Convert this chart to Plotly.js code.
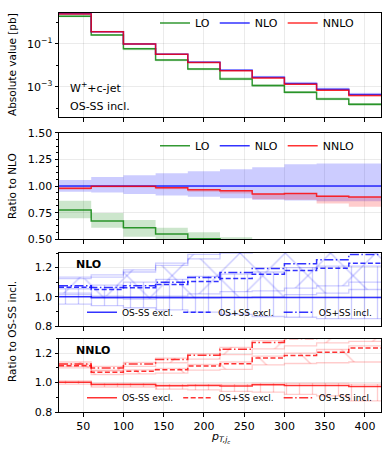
<!DOCTYPE html>
<html>
<head>
<meta charset="utf-8">
<script src="https://cdn.plot.ly/plotly-3.0.1.min.js"></script>
<style>
html, body { margin: 0; padding: 0; background: #fff; }
#chart { width: 390px; height: 454px; }
</style>
</head>
<body>
<div id="chart"></div>
<script>
// bin edges in pT (GeV)
var edges = [20, 60, 100, 140, 180, 220, 260, 300, 340, 380, 420];

// panel 1: absolute values [pb]
var absLO   = [1.90, 0.250, 0.058, 0.0175, 0.0066, 0.0023, 0.00112, 0.00055, 0.00027, 0.000151];
var absNLO  = [2.45, 0.363, 0.0977, 0.0324, 0.0138, 0.00575, 0.00275, 0.00141, 0.00076, 0.000437];
var absNNLO = [2.40, 0.362, 0.0973, 0.0319, 0.0133, 0.00550, 0.00254, 0.00131, 0.00069, 0.00039];

// panel 2: ratio to NLO, with scale bands
var rLO      = [0.775, 0.672, 0.609, 0.550, 0.506, 0.44, 0.41, 0.39, 0.36, 0.35];
var rLOlo    = [0.697, 0.609, 0.525, 0.480, 0.440, 0.38, 0.35, 0.33, 0.31, 0.29];
var rLOhi    = [0.862, 0.747, 0.681, 0.609, 0.566, 0.52, 0.48, 0.45, 0.42, 0.40];
var rNLO     = [1, 1, 1, 1, 1, 1, 1, 1, 1, 1];
var rNLOlo   = [0.945, 0.940, 0.925, 0.910, 0.900, 0.885, 0.870, 0.865, 0.857, 0.857];
var rNLOhi   = [1.056, 1.084, 1.100, 1.119, 1.138, 1.157, 1.175, 1.203, 1.210, 1.210];
var rNNLO    = [0.978, 0.997, 0.997, 0.984, 0.965, 0.955, 0.925, 0.930, 0.903, 0.897];
var rNNLOlo  = [0.965, 0.985, 0.985, 0.970, 0.945, 0.930, 0.875, 0.870, 0.835, 0.805];
var rNNLOhi  = [0.985, 1.000, 1.000, 0.990, 0.970, 0.960, 0.930, 0.935, 0.910, 0.900];

// panel 3: NLO, ratio to OS-SS incl.
var nloExcl     = [1.000, 0.996, 0.996, 0.996, 0.996, 0.995, 0.995, 0.995, 0.995, 0.995];
var nloExclLo   = [0.950, 0.940, 0.925, 0.910, 0.895, 0.880, 0.865, 0.860, 0.850, 0.850];
var nloExclHi   = [1.055, 1.080, 1.100, 1.120, 1.140, 1.155, 1.170, 1.200, 1.210, 1.210];
var nloSum      = [1.066, 1.050, 1.062, 1.085, 1.105, 1.125, 1.155, 1.180, 1.196, 1.230];
var nloSumLo    = [1.015, 0.990, 0.985, 0.990, 0.990, 0.995, 1.000, 1.015, 1.025, 1.050];
var nloSumHi    = [1.125, 1.135, 1.170, 1.215, 1.260, 1.300, 1.350, 1.410, 1.450, 1.490];
var nloSumInc   = [1.075, 1.064, 1.075, 1.100, 1.132, 1.167, 1.194, 1.226, 1.253, 1.290];
var nloSumIncLo = [1.025, 1.005, 1.000, 1.005, 1.020, 1.035, 1.040, 1.060, 1.075, 1.100];
var nloSumIncHi = [1.135, 1.150, 1.185, 1.230, 1.290, 1.350, 1.400, 1.460, 1.520, 1.560];

// panel 4: NNLO, ratio to OS-SS incl.
var nnloExcl     = [1.003, 0.987, 0.987, 0.978, 0.980, 0.977, 0.986, 0.980, 0.980, 0.973];
var nnloExclLo   = [0.990, 0.970, 0.970, 0.955, 0.950, 0.940, 0.935, 0.920, 0.910, 0.875];
var nnloExclHi   = [1.012, 0.995, 0.995, 0.990, 0.990, 0.990, 0.995, 0.995, 0.995, 0.990];
var nnloSum      = [1.115, 1.070, 1.077, 1.087, 1.113, 1.128, 1.168, 1.185, 1.207, 1.236];
var nnloSumLo    = [1.100, 1.055, 1.060, 1.065, 1.085, 1.090, 1.120, 1.130, 1.135, 1.140];
var nnloSumHi    = [1.125, 1.080, 1.087, 1.097, 1.123, 1.140, 1.180, 1.200, 1.225, 1.250];
var nnloSumInc   = [1.126, 1.100, 1.127, 1.157, 1.186, 1.227, 1.272, 1.300, 1.330, 1.360];
var nnloSumIncLo = [1.110, 1.085, 1.110, 1.135, 1.160, 1.190, 1.230, 1.250, 1.270, 1.280];
var nnloSumIncHi = [1.140, 1.110, 1.137, 1.167, 1.196, 1.240, 1.285, 1.320, 1.350, 1.380];

var GREEN = 'rgba(0,128,0,0.8)', BLUE = 'rgba(0,0,255,0.8)', RED = 'rgba(255,0,0,0.8)';
var FONT = 'DejaVu Sans, sans-serif';
var DASHED = '5px,2.5px', DASHDOT = '9px,2.5px,1.5px,2.5px';

// repeat last value so the 'hv' step closes at the last edge
function st(v) { return v.concat([v[v.length - 1]]); }

function line(ax, y, color, name, dash, leg) {
  return {
    x: edges, y: st(y), xaxis: 'x' + ax, yaxis: 'y' + ax, type: 'scatter', mode: 'lines',
    line: {shape: 'hv', color: color, width: 1.5, dash: dash || 'solid'},
    name: name, showlegend: !!leg, legend: leg, hoverinfo: 'skip'
  };
}

function band(ax, lo, hi, fill, edge, pat) {
  var a = {
    x: edges, y: st(lo), xaxis: 'x' + ax, yaxis: 'y' + ax, type: 'scatter', mode: 'lines',
    line: {shape: 'hv', color: edge || 'rgba(0,0,0,0)', width: edge ? 1.3 : 0},
    showlegend: false, hoverinfo: 'skip'
  };
  var b = {
    x: edges, y: st(hi), xaxis: 'x' + ax, yaxis: 'y' + ax, type: 'scatter', mode: 'lines',
    line: {shape: 'hv', color: edge || 'rgba(0,0,0,0)', width: edge ? 1.3 : 0},
    fill: 'tonexty', fillcolor: fill, showlegend: false, hoverinfo: 'skip'
  };
  if (pat) b.fillpattern = pat;
  return [a, b];
}

function hatch(shape, rgb, size) {
  return {shape: shape, fgcolor: rgb, fgopacity: 0.2, bgcolor: 'rgba(0,0,0,0)',
          size: size, solidity: shape === '|' ? 0.1 : 0.045, fillmode: 'replace'};
}

// scale bands in panel 1 follow the ratio bands
function scaled(absv, r, rb) { return absv.map(function (v, i) { return v * rb[i] / r[i]; }); }

var data = [];
// panel 1
data = data.concat(band('', scaled(absLO, rLO, rLOlo), scaled(absLO, rLO, rLOhi), 'rgba(0,128,0,0.2)'));
data = data.concat(band('', scaled(absNLO, rNLO, rNLOlo), scaled(absNLO, rNLO, rNLOhi), 'rgba(0,0,255,0.12)'));
data = data.concat(band('', scaled(absNNLO, rNNLO, rNNLOlo), scaled(absNNLO, rNNLO, rNNLOhi), 'rgba(255,0,0,0.2)'));
data.push(line('', absLO, GREEN, 'LO', 'solid', 'legend'));
data.push(line('', absNLO, BLUE, 'NLO', 'solid', 'legend'));
data.push(line('', absNNLO, RED, 'NNLO', 'solid', 'legend'));
// panel 2
data = data.concat(band('2', rNLOlo, rNLOhi, 'rgba(0,0,255,0.2)'));
data = data.concat(band('2', rLOlo, rLOhi, 'rgba(0,128,0,0.2)'));
data = data.concat(band('2', rNNLOlo, rNNLOhi, 'rgba(255,0,0,0.2)'));
data.push(line('2', rLO, GREEN, 'LO', 'solid', 'legend2'));
data.push(line('2', rNLO, BLUE, 'NLO', 'solid', 'legend2'));
data.push(line('2', rNNLO, RED, 'NNLO', 'solid', 'legend2'));
// panel 3
var eB = 'rgba(0,0,255,0.2)', eR = 'rgba(255,0,0,0.2)';
data = data.concat(band('3', nloExclLo, nloExclHi, 'rgba(0,0,0,0)', eB, hatch('|', 'blue', 13)));
data = data.concat(band('3', nloSumLo, nloSumHi, 'rgba(0,0,0,0)', eB, hatch('\\', 'blue', 32)));
data = data.concat(band('3', nloSumIncLo, nloSumIncHi, 'rgba(0,0,0,0)', eB, hatch('/', 'blue', 32)));
data.push(line('3', nloExcl, BLUE, 'OS-SS excl.', 'solid', 'legend3'));
data.push(line('3', nloSum, BLUE, 'OS+SS excl.', DASHED, 'legend3'));
data.push(line('3', nloSumInc, BLUE, 'OS+SS incl.', DASHDOT, 'legend3'));
// panel 4
data = data.concat(band('4', nnloExclLo, nnloExclHi, 'rgba(255,0,0,0.1)', eR, hatch('|', 'red', 13)));
data = data.concat(band('4', nnloSumLo, nnloSumHi, 'rgba(255,0,0,0.1)', eR, hatch('\\', 'red', 32)));
data = data.concat(band('4', nnloSumIncLo, nnloSumIncHi, 'rgba(255,0,0,0.1)', eR, hatch('/', 'red', 32)));
data.push(line('4', nnloExcl, RED, 'OS-SS excl.', 'solid', 'legend4'));
data.push(line('4', nnloSum, RED, 'OS+SS excl.', DASHED, 'legend4'));
data.push(line('4', nnloSumInc, RED, 'OS+SS incl.', DASHDOT, 'legend4'));

var xTicks = [50, 100, 150, 200, 250, 300, 350, 400];
function xax(anchor, labels) {
  return {
    domain: [59 / 390, 381 / 390], range: [20, 420], anchor: anchor,
    tickvals: xTicks, showticklabels: labels, ticks: 'outside', ticklen: 3.5, tickcolor: '#000',
    showline: true, mirror: true, linecolor: '#000', linewidth: 1,
    showgrid: true, gridcolor: 'rgba(0,0,0,0.08)', zeroline: false,
    tickfont: {family: FONT, size: 11, color: '#000'}
  };
}
function yax(anchor, dom, extra) {
  var o = {
    domain: dom, anchor: anchor, ticks: 'outside', ticklen: 3.5, tickcolor: '#000',
    showline: true, mirror: true, linecolor: '#000', linewidth: 1,
    showgrid: true, gridcolor: 'rgba(0,0,0,0.08)', zeroline: false,
    tickfont: {family: FONT, size: 11, color: '#000'}
  };
  for (var k in extra) o[k] = extra[k];
  return o;
}
function dom(top, bot) { return [1 - bot / 454, 1 - top / 454]; }

function leg(y, x, size) {
  return {orientation: 'h', x: x, y: y, xanchor: 'left', yanchor: 'middle', traceorder: 'normal',
          bgcolor: 'rgba(0,0,0,0)', font: {family: FONT, size: size, color: '#000'},
          itemwidth: 30, tracegroupgap: 0};
}

function note(text, px, py, size, xa, angle) {
  return {text: text, x: px / 390, y: 1 - py / 454, xref: 'paper', yref: 'paper',
          xanchor: xa || 'center', yanchor: 'middle', textangle: angle || 0,
          showarrow: false, font: {family: FONT, size: size, color: '#000'}};
}

var layout = {
  width: 390, height: 454,
  margin: {l: 0, r: 0, t: 0, b: 0},
  paper_bgcolor: '#fff', plot_bgcolor: '#fff',
  font: {family: FONT, color: '#000'},
  xaxis: xax('y', false), xaxis2: xax('y2', false), xaxis3: xax('y3', false), xaxis4: xax('y4', true),
  yaxis: yax('x', dom(12.7, 117), {
    type: 'log', range: [-4.41, 0.44], tickvals: [0.001, 0.1],
    ticktext: ['10<sup>\u22123</sup>', '10<sup>\u22121</sup>'],
    minor: {tickvals: [0.0001, 0.01, 1], ticklen: 2, tickcolor: '#000', showgrid: false}
  }),
  yaxis2: yax('x2', dom(132.7, 239.3), {
    range: [0.5, 1.5], tickvals: [0.5, 0.75, 1.0, 1.25, 1.5], tickformat: '.2f',
    minor: {dtick: 0.0625, tick0: 0.5, ticklen: 2, tickcolor: '#000', showgrid: false}
  }),
  yaxis3: yax('x3', dom(253, 326), {
    range: [0.8, 1.3], tickvals: [0.8, 1.0, 1.2], tickformat: '.1f',
    minor: {dtick: 0.1, tick0: 0.8, ticklen: 2, tickcolor: '#000', showgrid: false}
  }),
  yaxis4: yax('x4', dom(338.5, 412), {
    range: [0.8, 1.3], tickvals: [0.8, 1.0, 1.2], tickformat: '.1f',
    minor: {dtick: 0.1, tick0: 0.8, ticklen: 2, tickcolor: '#000', showgrid: false}
  }),
  legend: leg(1 - 23 / 454, 155 / 390, 11),
  legend2: leg(1 - 145.7 / 454, 155 / 390, 11),
  legend3: leg(1 - 312.3 / 454, 82 / 390, 9),
  legend4: leg(1 - 397.7 / 454, 82 / 390, 9),
  annotations: [
    note('Absolute value [pb]', 12, 65, 10.5, 'center', -90),
    note('Ratio to NLO', 12, 186, 10.5, 'center', -90),
    note('Ratio to OS-SS incl.', 12, 332, 10.5, 'center', -90),
    note('<i>p</i><sub><i>T,j<sub>c</sub></i></sub>', 220, 437, 11),
    note('W<sup>+</sup>+c-jet', 68, 88, 11, 'left'),
    note('OS-SS incl.', 68, 106, 11, 'left'),
    note('<b>NLO</b>', 74, 264, 11, 'left'),
    note('<b>NNLO</b>', 74, 350, 11, 'left')
  ]
};

Plotly.newPlot('chart', data, layout, {staticPlot: true, displayModeBar: false});
</script>
</body>
</html>
